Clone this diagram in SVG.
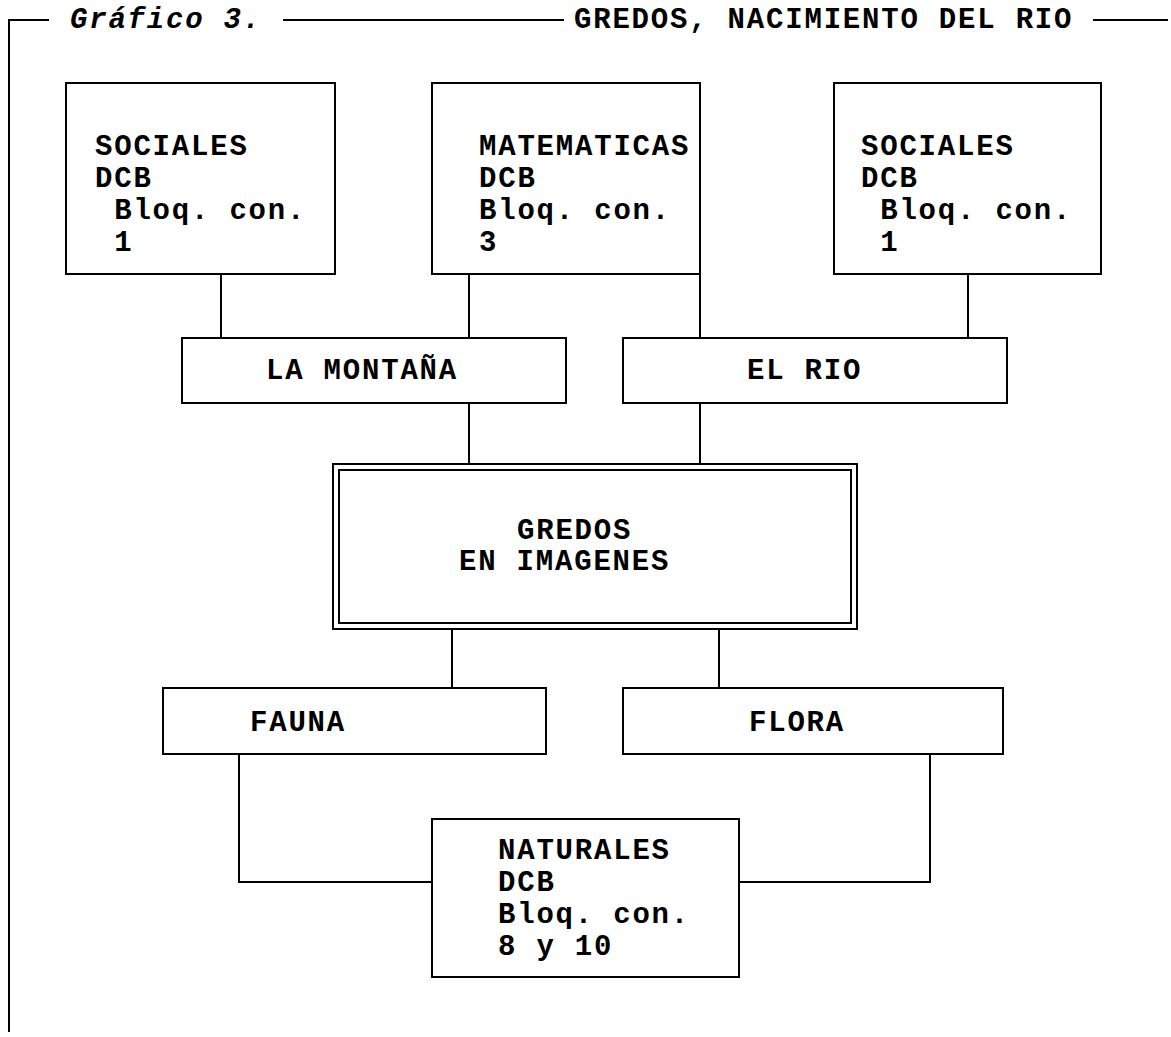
<svg xmlns="http://www.w3.org/2000/svg" width="1171" height="1037" viewBox="0 0 1171 1037">
  <style>
    .box { fill: #ffffff; stroke: #000000; stroke-width: 2; }
    .wire { fill: none; stroke: #000000; stroke-width: 2; }
    .lbl { font-family: "Liberation Mono", "Courier New", monospace; font-size: 29px; letter-spacing: 1.8px; font-weight: bold; fill: #000000; white-space: pre; }
    .ttl-i { font-style: italic; }
  </style>
  <rect x="0" y="0" width="1171" height="1037" fill="#ffffff"/>

  <!-- outer frame with heading -->
  <g id="frame">
    <path class="wire" d="M9,1032 V20 H49"/>
    <path class="wire" d="M283,20 H564"/>
    <path class="wire" d="M1093,20 H1168"/>
    <text class="lbl ttl-i" x="70" y="28">Gráfico 3.</text>
    <text class="lbl" x="574" y="28">GREDOS, NACIMIENTO DEL RIO</text>
  </g>

  <!-- connectors -->
  <g id="connectors">
    <path class="wire" d="M221,275 V338"/>
    <path class="wire" d="M469,275 V338"/>
    <path class="wire" d="M700,275 V338"/>
    <path class="wire" d="M968,275 V338"/>
    <path class="wire" d="M469,403 V464"/>
    <path class="wire" d="M700,403 V464"/>
    <path class="wire" d="M452,629 V688"/>
    <path class="wire" d="M719,629 V688"/>
    <path class="wire" d="M239,754 V882 H432"/>
    <path class="wire" d="M930,754 V882 H739"/>
  </g>

  <g id="sociales-1">
    <rect class="box" x="66" y="83" width="269" height="191"/>
    <text class="lbl" x="95" y="155">SOCIALES</text>
    <text class="lbl" x="95" y="187">DCB</text>
    <text class="lbl" x="95" y="219"> Bloq. con.</text>
    <text class="lbl" x="95" y="251"> 1</text>
  </g>

  <g id="matematicas">
    <rect class="box" x="432" y="83" width="268" height="191"/>
    <text class="lbl" x="479" y="155">MATEMATICAS</text>
    <text class="lbl" x="479" y="187">DCB</text>
    <text class="lbl" x="479" y="219">Bloq. con.</text>
    <text class="lbl" x="479" y="251">3</text>
  </g>

  <g id="sociales-2">
    <rect class="box" x="834" y="83" width="267" height="191"/>
    <text class="lbl" x="861" y="155">SOCIALES</text>
    <text class="lbl" x="861" y="187">DCB</text>
    <text class="lbl" x="861" y="219"> Bloq. con.</text>
    <text class="lbl" x="861" y="251"> 1</text>
  </g>

  <g id="la-montana">
    <rect class="box" x="182" y="338" width="384" height="65"/>
    <text class="lbl" x="266" y="379">LA MONTAÑA</text>
  </g>

  <g id="el-rio">
    <rect class="box" x="623" y="338" width="384" height="65"/>
    <text class="lbl" x="747" y="379">EL RIO</text>
  </g>

  <g id="gredos-imagenes">
    <rect class="box" x="333" y="464" width="524" height="165"/>
    <rect class="box" x="339" y="470" width="512" height="153"/>
    <text class="lbl" x="517" y="539">GREDOS</text>
    <text class="lbl" x="459" y="570">EN IMAGENES</text>
  </g>

  <g id="fauna">
    <rect class="box" x="163" y="688" width="383" height="66"/>
    <text class="lbl" x="250" y="731">FAUNA</text>
  </g>

  <g id="flora">
    <rect class="box" x="623" y="688" width="380" height="66"/>
    <text class="lbl" x="749" y="731">FLORA</text>
  </g>

  <g id="naturales">
    <rect class="box" x="432" y="819" width="307" height="158"/>
    <text class="lbl" x="498" y="859">NATURALES</text>
    <text class="lbl" x="498" y="891">DCB</text>
    <text class="lbl" x="498" y="923">Bloq. con.</text>
    <text class="lbl" x="498" y="955">8 y 10</text>
  </g>
</svg>
